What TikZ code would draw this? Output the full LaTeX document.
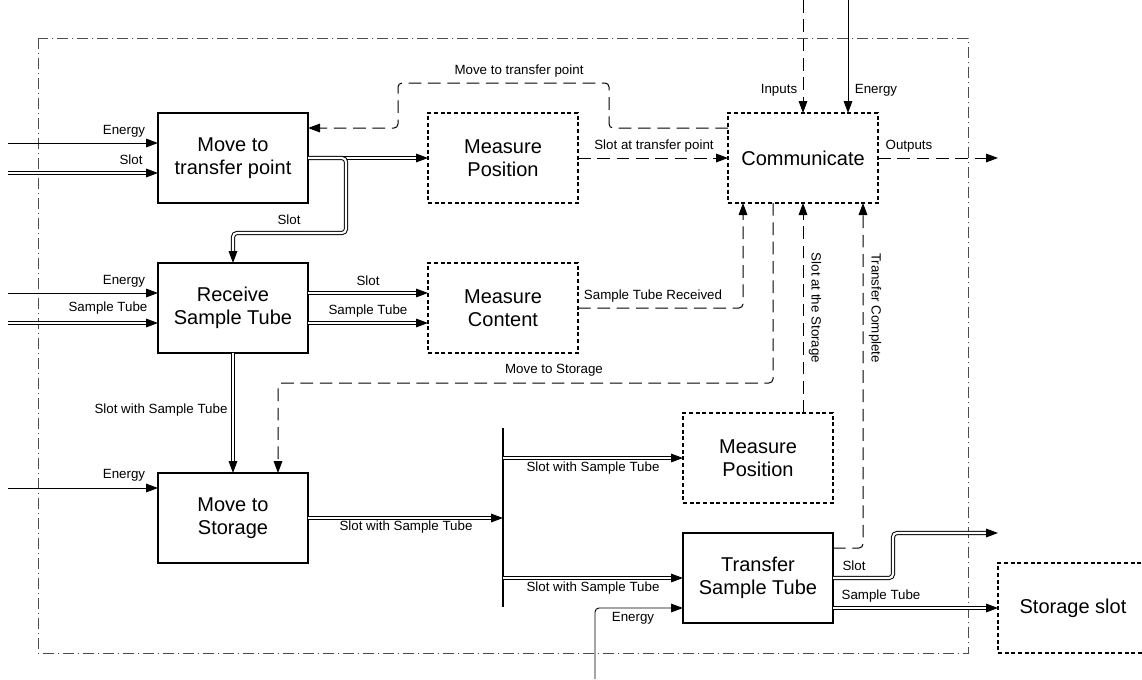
\documentclass[tikz,border=0pt]{standalone}
\usepackage{fontspec}
\setmainfont{Liberation Sans}
\usetikzlibrary{arrows.meta,calc}
\begin{document}
\begin{tikzpicture}[x=0.75pt,y=-0.75pt,
  fn/.style={draw, line width=0.9pt, minimum width=112.5pt, minimum height=67.5pt, align=center, font=\fontsize{15}{17.5}\selectfont, inner sep=0pt, outer sep=0pt},
  dfn/.style={fn, line width=0.8pt, dash pattern=on 3pt off 2pt},
  lbl/.style={font=\fontsize{10}{12}\selectfont, inner sep=0pt},
  arr/.style={-{Triangle[length=9pt,width=6.5pt]}},
  thinflow/.style={line width=0.7pt, arr, rounded corners=3pt},
  dbl/.style={double, double distance=1.6pt, line width=0.75pt, arr, rounded corners=3pt},
  ctl/.style={line width=0.75pt, draw=black, dash pattern=on 9.5pt off 5pt, arr, rounded corners=3pt},
  frame/.style={draw=black!70, line width=0.6pt, dash pattern=on 8pt off 3pt on 1pt off 3pt}]
\useasboundingbox (0,0) rectangle (1142,679);
\draw[frame] (38,38) rectangle (968,653);

% function nodes
\node[fn]  (mtp) at (233,158) {Move to\\transfer point};
\node[dfn] (mp1) at (503,158) {Measure\\Position};
\node[dfn] (com) at (803,158) {Communicate};
\node[fn]  (rst) at (233,308) {Receive\\Sample Tube};
\node[dfn] (mc)  at (503,308) {Measure\\Content};
\node[fn]  (mts) at (233,518) {Move to\\Storage};
\node[dfn] (mp2) at (758,458) {Measure\\Position};
\node[fn]  (tst) at (758,578) {Transfer\\Sample Tube};
\node[dfn] (ss)  at (1073,608) {Storage slot};

% free ends
\coordinate (e1) at (8,143);
\coordinate (s1) at (8,173);
\coordinate (e2) at (8,293);
\coordinate (s2) at (8,323);
\coordinate (e3) at (8,488);
\coordinate (e4) at (595,679);
\coordinate (inp) at (803,0);
\coordinate (ent) at (848,0);
\coordinate (outp) at (998,158);
\coordinate (so) at (998,533);
\coordinate (bt) at (503,428);
\coordinate (bb) at (503,607);

% inputs on the left
\draw[thinflow] (e1) -- ($(mtp.west)+(0,-15)$);
\draw[dbl] (s1) -- ($(mtp.west)+(0,15)$);
\draw[thinflow] (e2) -- ($(rst.west)+(0,-15)$);
\draw[dbl] (s2) -- ($(rst.west)+(0,15)$);
\draw[thinflow] (e3) -- ($(mts.west)+(0,-30)$);

% move to transfer point outputs
\draw[dbl] (mtp.east) -- (mp1.west);
\draw[dbl] (mtp.east) -| (346,233) -| (rst.north);

% receive outputs
\draw[dbl] ($(rst.east)+(0,-15)$) -- ($(mc.west)+(0,-15)$);
\draw[dbl] ($(rst.east)+(0,15)$) -- ($(mc.west)+(0,15)$);
\draw[dbl] (rst.south) -- (mts.north);

% bar
\draw[line width=1.6pt] (bt) -- (bb);
\draw[dbl] (mts.east) -- (mts.east -| bt);
\draw[dbl] (mp2.west -| bt) -- (mp2.west);
\draw[dbl] (tst.west -| bt) -- (tst.west);
\draw[thinflow] (e4) |- ($(tst.west)+(0,30)$);

% transfer outputs
\draw[dbl] (tst.east) -| (893,533) -- (so);
\draw[dbl] ($(tst.east)+(0,30)$) -- (ss.west);

% control flows
\draw[ctl] (mp1.east) -- (com.west);
\draw[ctl] ($(com.west)+(0,-30)$) -| (609,83) -| (398,128) -- ($(mtp.east)+(0,-30)$);
\draw[ctl] (inp) -- (com.north);
\draw[thinflow] (ent) -- (com.north -| ent);
\draw[ctl] (com.east) -- (outp);
\draw[ctl] (mc.east) -| ($(com.south)+(-60,0)$);
\draw[ctl] ($(com.south)+(-30,0)$) |- (278,383) -- ($(mts.north)+(45,0)$);
\draw[ctl] (com.south |- mp2.north) -- (com.south);
\draw[ctl] ($(tst.east)+(0,-30)$) -| ($(com.south)+(60,0)$);

% labels
\node[lbl] (l1) at (124,131) {Energy};
\node[lbl] (l2) at (131,160) {Slot};
\node[lbl] (l3) at (289,220) {Slot};
\node[lbl] (l4) at (519,71) {Move to transfer point};
\node[lbl] (l5) at (654,146) {Slot at transfer point};
\node[lbl] (l6) at (779,90) {Inputs};
\node[lbl] (l7) at (876,90) {Energy};
\node[lbl] (l8) at (909,146) {Outputs};
\node[lbl] (l9) at (124,281) {Energy};
\node[lbl] (l10) at (108,308) {Sample Tube};
\node[lbl] (l11) at (368,281) {Slot};
\node[lbl] (l12) at (368,311) {Sample Tube};
\node[lbl] (l13) at (653,296) {Sample Tube Received};
\node[lbl] (l14) at (554,370) {Move to Storage};
\node[lbl,rotate=-90] (l15) at (815,308) {Slot at the Storage};
\node[lbl,rotate=-90] (l16) at (875,308) {Transfer Complete};
\node[lbl] (l17) at (161,410) {Slot with Sample Tube};
\node[lbl] (l18) at (124,475) {Energy};
\node[lbl] (l19) at (406,527) {Slot with Sample Tube};
\node[lbl] (l20) at (593,468) {Slot with Sample Tube};
\node[lbl] (l21) at (593,588) {Slot with Sample Tube};
\node[lbl] (l22) at (633,618) {Energy};
\node[lbl] (l23) at (854,566) {Slot};
\node[lbl] (l24) at (881,596) {Sample Tube};
\end{tikzpicture}
\end{document}
